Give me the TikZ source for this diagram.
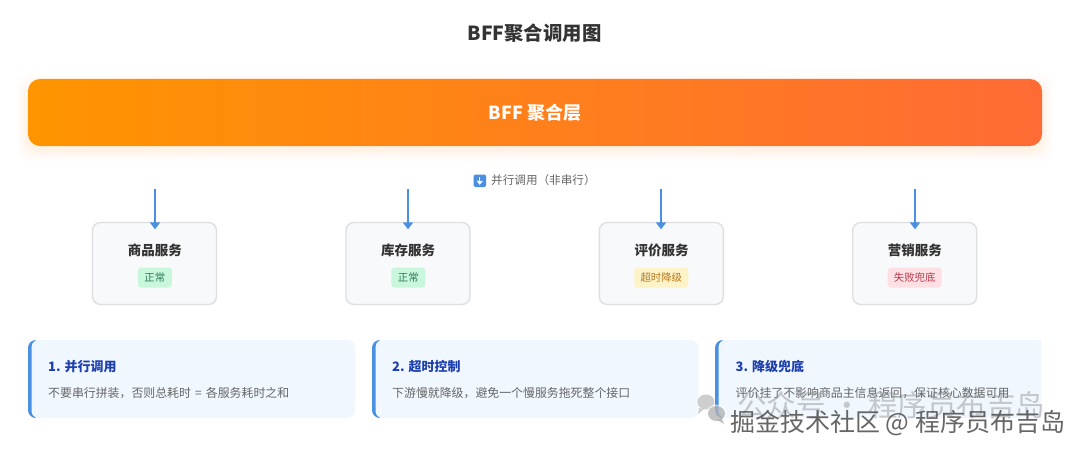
\documentclass[tikz,border=0pt]{standalone}
\usepackage{fontspec}
\setmainfont{Noto Sans CJK SC}
\usetikzlibrary{arrows.meta,calc}
\definecolor{ink}{HTML}{333333}
\definecolor{flowblue}{HTML}{4A90E2}
\definecolor{boxfill}{HTML}{F8F9FA}
\definecolor{boxline}{HTML}{DEDFE2}
\definecolor{cardfill}{HTML}{F0F7FF}
\definecolor{cardhead}{HTML}{1E40AF}
\definecolor{carddesc}{HTML}{666666}
\definecolor{okbg}{HTML}{C9F7DC}\definecolor{okfg}{HTML}{2F7A55}
\definecolor{warnbg}{HTML}{FEF3C7}\definecolor{warnfg}{HTML}{B7791F}
\definecolor{failbg}{HTML}{FEE0E4}\definecolor{failfg}{HTML}{B83A4B}
\definecolor{orangeA}{HTML}{FF9500}\definecolor{orangeB}{HTML}{FF6B35}
\newcommand{\fs}[1]{\fontsize{#1}{#1}\selectfont}
\tikzset{
 svcbox/.style={draw=boxline,line width=1.4pt,fill=boxfill,rounded corners=8pt,minimum width=124pt,minimum height=82pt,inner sep=0pt},
 svcname/.style={font=\fs{13.5}\bfseries,text=ink,inner sep=0pt},
 badge/.style={rounded corners=3.5pt,inner sep=0pt,minimum height=20pt,font=\fs{10.4}},
 flow/.style={draw=flowblue,line width=1.7pt,-{Triangle[width=10pt,length=7pt]},shorten >=0pt},
 cardhd/.style={anchor=west,inner sep=0pt,font=\fs{13}\bfseries,text=cardhead},
 carddsc/.style={anchor=west,inner sep=0pt,font=\fs{11.9},text=carddesc},
}
\begin{document}
\begin{tikzpicture}[x=1pt,y=-1pt]
\useasboundingbox (0,0) rectangle (1080,452);
\fill[white] (0,0) rectangle (1080,452);
\node[inner sep=0pt,font=\fs{19.4}\bfseries,text=ink] (title) at (534.5,33) {BFF聚合调用图};
% banner shadow
\foreach \g/\o in {12/.008,10/.01,8/.012,6/.014,4/.018,2/.022}{
 \fill[orangeA,opacity=\o,rounded corners=14pt] (28-\g,85-\g) rectangle (1042+\g,150+\g);
}
\node[left color=orangeA,right color=orangeB,rounded corners=12pt,minimum width=1014pt,minimum height=67pt,inner sep=0pt,font=\fs{18}\bfseries,text=white] (bff) at (535,112.5) {BFF 聚合层};
% parallel label
\fill[flowblue,rounded corners=1.5pt] (473.5,174.5) rectangle (486,187);
\draw[white,line width=1.4pt] (479.75,177) -- (479.75,181.5);
\fill[white] (476.5,180.8) -- (483,180.8) -- (479.75,184.8) -- cycle;
\node[anchor=west,inner sep=0pt,font=\fs{11.6},text=carddesc] (par) at (491,180.5) {并行调用（非串行）};
% services
\node[svcbox] (s1) at (154.5,263.5) {};
\node[svcbox] (s2) at (408,263.5) {};
\node[svcbox] (s3) at (661.3,263.5) {};
\node[svcbox] (s4) at (914.7,263.5) {};
\node[svcname] (n1) at (154.8,250) {商品服务};
\node[svcname] (n2) at (408.2,250) {库存服务};
\node[svcname] (n3) at (661.5,250) {评价服务};
\node[svcname] (n4) at (914.8,250) {营销服务};
\node[badge,fill=okbg,text=okfg,minimum width=34pt] (b1) at (154.8,277.5) {正常};
\node[badge,fill=okbg,text=okfg,minimum width=34pt] (b2) at (408.3,277.5) {正常};
\node[badge,fill=warnbg,text=warnfg,minimum width=54pt] (b3) at (661.3,277.5) {超时降级};
\node[badge,fill=failbg,text=failfg,minimum width=54pt] (b4) at (914.7,277.5) {失败兜底};
\coordinate (a1) at (155,189);
\coordinate (a2) at (408,189);
\coordinate (a3) at (661,189);
\coordinate (a4) at (915,189);
\draw[flow] (a1) -- ([yshift=-7.5pt]a1 |- s1.north);
\draw[flow] (a2) -- ([yshift=-7.5pt]a2 |- s2.north);
\draw[flow] (a3) -- ([yshift=-7.5pt]a3 |- s3.north);
\draw[flow] (a4) -- ([yshift=-7.5pt]a4 |- s4.north);
% cards
\fill[cardfill,rounded corners=8pt] (28,340) rectangle (355,418);
\fill[cardfill,rounded corners=8pt] (372,340) rectangle (698.5,418);
\fill[cardfill] (723,340) rectangle (1041,418);
\fill[cardfill,rounded corners=8pt] (715,340) rectangle (730,418);
\foreach \x in {28,372,715}{
 \fill[flowblue] (\x+8,340) .. controls (\x+3.5,340) and (\x,343.5) .. (\x,348) -- (\x,410) .. controls (\x,414.5) and (\x+3.5,418) .. (\x+8,418) .. controls (\x+5,417) and (\x+3.5,414) .. (\x+3.5,410) -- (\x+3.5,348) .. controls (\x+3.5,344) and (\x+5,341) .. (\x+8,340) -- cycle;
}
\node[cardhd] (h1) at (48,366.5) {1. 并行调用};
\node[cardhd] (h2) at (392,366.5) {2. 超时控制};
\node[cardhd] (h3) at (735.5,366.5) {3. 降级兜底};
\node[carddsc] (d1) at (48,393) {不要串行拼装，否则总耗时\hspace{1.5pt} = \hspace{1.5pt}各服务耗时之和};
\node[carddsc] (d2) at (392,393) {下游慢就降级，避免一个慢服务拖死整个接口};
\node[carddsc] (d3) at (735.5,393) {评价挂了不影响商品主信息返回，保证核心数据可用};
% watermark
\begin{scope}[opacity=.55]
\fill[gray!70] (706,402) ellipse (8.5 and 7.5);
\fill[gray!70] (699,408) -- (698,414) -- (704,409) -- cycle;
\fill[white] (716.5,413.5) ellipse (10.5 and 9);
\fill[gray!85] (716.5,413.5) ellipse (8.5 and 7.5);
\fill[gray!85] (722,419) -- (724,424) -- (717,420) -- cycle;
\end{scope}
\node[anchor=west,inner sep=0pt,font=\fs{29.5},text=gray,opacity=.4] (wm1) at (737,405) {公众号 · 程序员布吉岛};
\node[anchor=west,inner sep=0pt,font=\fs{25},text=black!70,opacity=.85] (wm2) at (730,423) {掘金技术社区 @ 程序员布吉岛};
\end{tikzpicture}
\end{document}
